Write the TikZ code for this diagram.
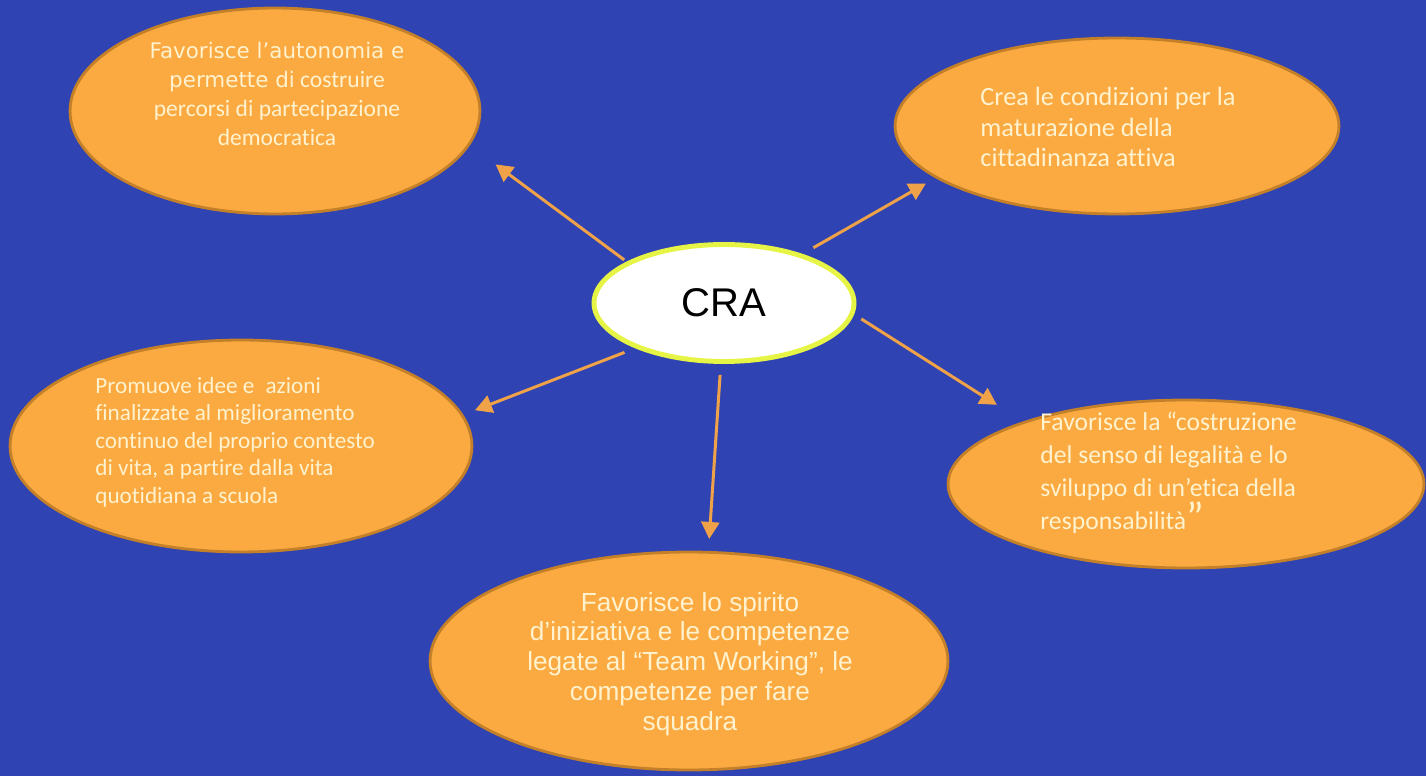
\documentclass[tikz,border=0pt]{standalone}
\usepackage{fontspec}
\usepackage{xcolor}
\usepackage{tikz}
\setmainfont{Carlito}[Ligatures=NoCommon]
\newfontfamily\arialfont{Liberation Sans}
\newfontfamily\widefont{DejaVu Sans}
\usetikzlibrary{shapes,arrows,positioning,calc,arrows.meta}

\definecolor{bgblue}{RGB}{47,67,178}
\definecolor{bubbleorange}{RGB}{251,170,66}
\definecolor{bubbleedge}{RGB}{196,128,40}
\definecolor{linkorange}{RGB}{240,162,72}
\definecolor{hubedge}{RGB}{230,244,70}
\definecolor{cream}{RGB}{255,242,206}

\begin{document}
\begin{tikzpicture}[x=0.02cm, y=-0.02cm,
    bubble/.style={ellipse, draw=bubbleedge, line width=1.6pt, fill=bubbleorange, inner sep=0pt},
    hub/.style={ellipse, draw=hubedge, line width=2.8pt, fill=white, inner sep=0pt,
        minimum width=5.2cm, minimum height=2.34cm},
    txt/.style={text=cream, inner sep=0pt},
    link/.style={draw=linkorange, line width=1.7pt, -{Triangle[length=0.34cm,width=0.36cm]}}]
    \useasboundingbox (0,0) rectangle (1426,776);
    \fill [bgblue] (0,0) rectangle (1426,776);

    % centre and bubbles
    \node [hub] (CRA) at (724,303) {\arialfont\fontsize{22.8}{26}\selectfont CRA};
    \node [bubble, minimum width=8.2cm, minimum height=4.12cm] (Autonomia) at (275,111) {};
    \node [bubble, minimum width=8.88cm, minimum height=3.52cm] (Cittadinanza) at (1117,126) {};
    \node [bubble, minimum width=9.24cm, minimum height=4.24cm] (Idee) at (241,446) {};
    \node [bubble, minimum width=9.52cm, minimum height=3.36cm] (Legalita) at (1186,484) {};
    \node [bubble, minimum width=10.36cm, minimum height=4.36cm] (Team) at (689,661) {};

    % texts
    \node [txt, align=center, font=\fontsize{13.4}{16.4}\selectfont] (AutonomiaT) at (277,94)
        {{\widefont\fontsize{12.2}{16.4}\selectfont Favorisce l’autonomia e}\\
         {\widefont\fontsize{12.2}{16.4}\selectfont permette di} costruire\\
         percorsi di partecipazione\\
         democratica};
    \node [txt, align=left, anchor=west, font=\fontsize{15}{17.6}\selectfont] (CittadinanzaT) at (980,127)
        {Crea le condizioni per la\\
         maturazione della\\
         cittadinanza attiva};
    \node [txt, align=left, anchor=west, font=\fontsize{13.2}{15.6}\selectfont] (IdeeT) at (95,442)
        {Promuove idee e \hspace{0.25em}azioni\\
         finalizzate al miglioramento\\
         continuo del proprio contesto\\
         di vita, a partire dalla vita\\
         quotidiana a scuola};
    \node [txt, align=left, anchor=west, font=\fontsize{14.6}{18.7}\selectfont] (LegalitaT) at (1040,473)
        {Favorisce la “costruzione\\
         del senso di legalità e lo\\
         sviluppo di un’etica della\\
         responsabilità{\fontsize{24}{18.7}\selectfont\raisebox{-1pt}{”}}};
    \node [txt, align=center, font=\arialfont\fontsize{14.9}{17}\selectfont] (TeamT) at (690,664)
        {Favorisce lo spirito\\
         d’iniziativa e le competenze\\
         legate al “Team Working”, le\\
         competenze per fare\\
         squadra};

    % arrows
    \draw [link, shorten <=0.06cm, shorten >=0.64cm] (CRA.157) -- (Autonomia.-10);
    \draw [link, shorten <=0.25cm, shorten >=0.22cm] (CRA.32) -- (Cittadinanza.196);
    \draw [link, shorten <=0.23cm, shorten >=0.25cm] (CRA.207) -- (Idee.8);
    \draw [link, shorten <=0.17cm, shorten >=0.62cm] (CRA.-5) -- (Legalita.159);
    \draw [link, shorten <=0.22cm, shorten >=0.24cm] (CRA.-93) -- (Team.80);
\end{tikzpicture}
\end{document}
